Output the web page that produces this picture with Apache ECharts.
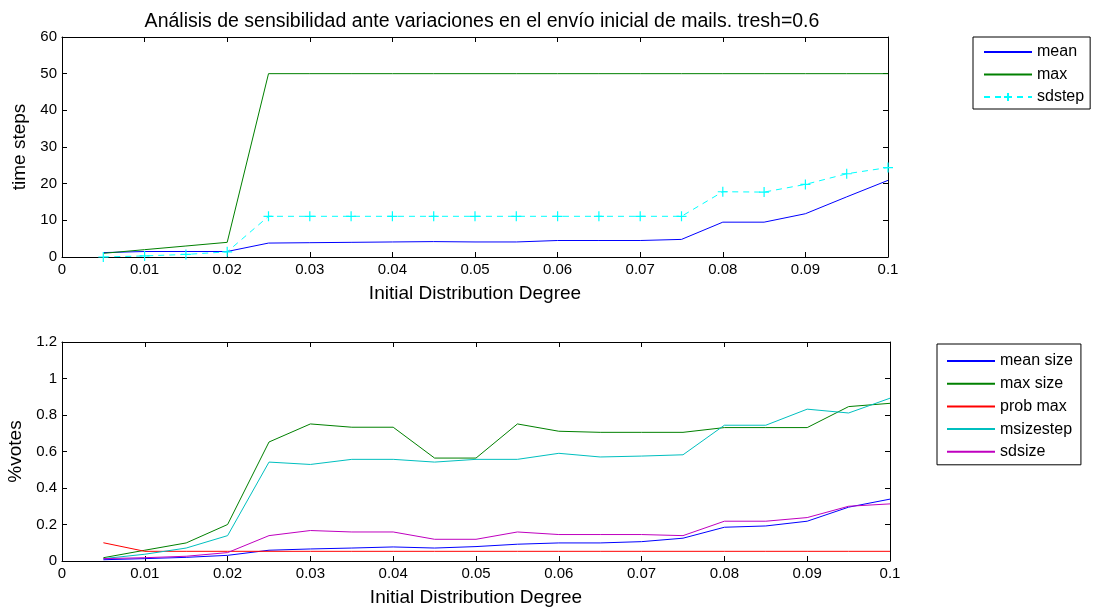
<!DOCTYPE html>
<html><head><meta charset="utf-8">
<script src="https://cdn.jsdelivr.net/npm/echarts@6/dist/echarts.min.js"></script>
<style>html,body{margin:0;padding:0;background:#fff}#c{width:1099px;height:612px}</style>
</head><body><div id="c"></div>
<script>
const xValues = [0.005,0.01,0.015,0.02,0.025,0.03,0.035,0.04,0.045,0.05,0.055,0.06,0.065,0.07,0.075,0.08,0.085,0.09,0.095,0.1];
// top plot
const meanSteps = [1.2,1.5,1.5,1.5,3.8,3.9,4.0,4.1,4.2,4.1,4.1,4.5,4.5,4.5,4.8,9.5,9.5,11.8,16.4,20.9];
const maxSteps  = [1,2,3,4,50,50,50,50,50,50,50,50,50,50,50,50,50,50,50,50];
const sdStep    = [0,0.3,0.7,1.4,11.1,11.1,11.1,11.1,11.1,11.1,11.1,11.1,11.1,11.1,11.1,17.8,17.7,19.8,22.7,24.4];
// bottom plot
const meanSize  = [0.007,0.013,0.02,0.031,0.059,0.066,0.071,0.077,0.071,0.079,0.092,0.099,0.099,0.106,0.125,0.185,0.192,0.218,0.295,0.339];
const maxSize   = [0.018,0.059,0.099,0.2,0.652,0.751,0.733,0.733,0.564,0.564,0.751,0.711,0.705,0.705,0.705,0.731,0.731,0.731,0.846,0.864];
const probMax   = [0.1,0.053,0.053,0.053,0.053,0.053,0.053,0.053,0.053,0.053,0.053,0.053,0.053,0.053,0.053,0.053,0.053,0.053,0.053,0.053];
const msizeStep = [0.013,0.037,0.071,0.139,0.542,0.529,0.557,0.557,0.542,0.557,0.557,0.59,0.57,0.575,0.582,0.744,0.744,0.832,0.811,0.892];
const sdSize    = [0.013,0.018,0.026,0.046,0.139,0.167,0.159,0.159,0.119,0.119,0.159,0.145,0.145,0.145,0.139,0.218,0.218,0.238,0.3,0.313];
const xTicks = ['0','0.01','0.02','0.03','0.04','0.05','0.06','0.07','0.08','0.09','0.1'];
const yTicksTop = ['0','10','20','30','40','50','60'];
const yTicksBottom = ['0','0.2','0.4','0.6','0.8','1','1.2'];

const FONT = 'Liberation Sans, Arial, sans-serif';
const pair = arr => xValues.map((x,i)=>[x,arr[i]]);
const tickFmt = (list, step) => v => list[Math.round(v/step)] ?? '';

function xAx(grid, pos, labels){
  return {type:'value', gridIndex:grid, position:pos, min:0, max:0.1, interval:0.01,
    axisLine:{show:true, onZero:false, lineStyle:{color:'#000', width:1}},
    axisTick:{show:true, inside:true, length:5, lineStyle:{color:'#000'}},
    axisLabel:{show:labels, color:'#000', fontFamily:FONT, fontSize:15, margin:5, formatter:tickFmt(xTicks,0.01)},
    splitLine:{show:false},
    name: labels ? 'Initial Distribution Degree' : '', nameLocation:'middle', nameGap:27,
    nameTextStyle:{color:'#000', fontFamily:FONT, fontSize:19}};
}
function yAx(grid, pos, labels, max, interval, list, name){
  return {type:'value', gridIndex:grid, position:pos, min:0, max:max, interval:interval,
    axisLine:{show:true, onZero:false, lineStyle:{color:'#000', width:1}},
    axisTick:{show:true, inside:true, length:5, lineStyle:{color:'#000'}},
    axisLabel:{show:labels, color:'#000', fontFamily:FONT, fontSize:15, margin:5, formatter:tickFmt(list,interval)},
    splitLine:{show:false},
    name: labels ? name : '', nameLocation:'middle', nameGap:31,
    nameTextStyle:{color:'#000', fontFamily:FONT, fontSize:19}};
}
function line(name, data, color, xi, yi, extra){
  return Object.assign({type:'line', name, data:pair(data), xAxisIndex:xi, yAxisIndex:yi,
    showSymbol:false, symbol:'circle', animation:false,
    lineStyle:{color, width:1}, itemStyle:{color:'rgba(0,0,0,0)', borderWidth:0}}, extra||{});
}
const plus = 'path://M0,5L10,5M5,0L5,10';

const chart = echarts.init(document.getElementById('c'), null, {renderer:'canvas'});
chart.setOption({
  animation:false,
  backgroundColor:'#fff',
  title:{text:'Análisis de sensibilidad ante variaciones en el envío inicial de mails. tresh=0.6',
    left:477, top:7, textAlign:'center',
    textStyle:{fontFamily:FONT, fontSize:19.5, fontWeight:'normal', color:'#000'}},
  grid:[
    {left:62, top:37, width:826, height:220, show:false, containLabel:false, outerBoundsMode:'none'},
    {left:62, top:342, width:828, height:219, show:false, containLabel:false, outerBoundsMode:'none'}
  ],
  xAxis:[xAx(0,'bottom',true), xAx(0,'top',false), xAx(1,'bottom',true), xAx(1,'top',false)],
  yAxis:[
    yAx(0,'left',true,60,10,yTicksTop,'time steps'), yAx(0,'right',false,60,10,yTicksTop,''),
    yAx(1,'left',true,1.2,0.2,yTicksBottom,'%votes'), yAx(1,'right',false,1.2,0.2,yTicksBottom,'')
  ],
  legend:[
    {data:['mean','max','sdstep'], orient:'vertical', left:973, top:37,
     itemWidth:48, itemHeight:10, itemGap:6.5, itemTextGap:6, padding:[7,6,4,10], borderColor:'#000', borderWidth:1,
     backgroundColor:'#fff', textStyle:{fontFamily:FONT, fontSize:16, color:'#000'}},
    {data:['mean size','max size','prob max','msizestep','sdsize'], orient:'vertical', left:937, top:344,
     itemWidth:48, itemHeight:10, itemGap:6.7, itemTextGap:6, padding:[9,8,5,9], borderColor:'#000', borderWidth:1,
     backgroundColor:'#fff', textStyle:{fontFamily:FONT, fontSize:16, color:'#000'}}
  ],
  series:[
    line('mean', meanSteps, '#0000ff', 0, 0),
    line('max', maxSteps, '#008000', 0, 0),
    line('sdstep', sdStep, '#00ffff', 0, 0, {showSymbol:true, symbol:plus, symbolSize:10,
      lineStyle:{color:'#00ffff', width:1, type:[6,5]},
      itemStyle:{color:'rgba(0,0,0,0)', borderColor:'#00ffff', borderWidth:1.2}}),
    line('mean size', meanSize, '#0000ff', 2, 2),
    line('max size', maxSize, '#008000', 2, 2),
    line('prob max', probMax, '#ff0000', 2, 2),
    line('msizestep', msizeStep, '#00bfbf', 2, 2),
    line('sdsize', sdSize, '#bf00bf', 2, 2)
  ]
});
</script></body></html>
